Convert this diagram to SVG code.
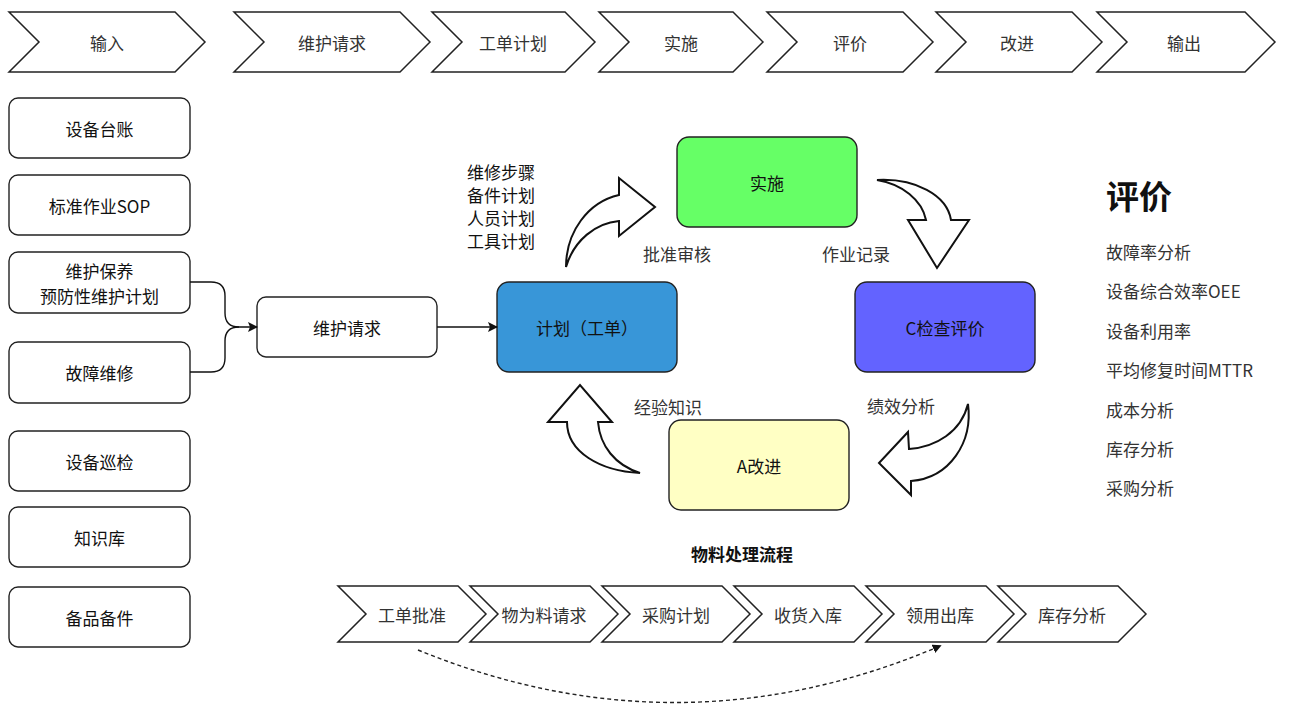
<svg xmlns="http://www.w3.org/2000/svg" width="1306" height="715" viewBox="0 0 1306 715">
<defs>
<style>
.chev{fill:#fff;stroke:#222;stroke-width:1.5;stroke-linejoin:miter}
.box{fill:#fff;stroke:#222;stroke-width:1.4}
.t{font-family:"Noto Sans CJK SC","Noto Sans",sans-serif;font-size:17px;fill:#111;text-anchor:middle;dominant-baseline:central}
.g{fill:#333}
.l{text-anchor:start}
.conn{fill:none;stroke:#111;stroke-width:1.4}
.big{fill:#fff;stroke:#111;stroke-width:2;stroke-linejoin:miter}
</style>
<marker id="arr" viewBox="0 0 10 10" refX="9" refY="5" markerWidth="10" markerHeight="10" markerUnits="userSpaceOnUse" orient="auto">
<path d="M0,0 L10,5 L0,10 L2,5 Z" fill="#111"/>
</marker>
<marker id="arrs" viewBox="0 0 10 10" refX="8" refY="5" markerWidth="9" markerHeight="9" markerUnits="userSpaceOnUse" orient="auto">
<path d="M0,0 L10,5 L0,10 Z" fill="#111"/>
</marker>
</defs>
<rect width="1306" height="715" fill="#fff"/>

<g id="top-chevrons">
<g id="c1"><path class="chev" d="M9,12 H175 L205,42 L175,72 H9 L39,42 Z"/><text class="t g" x="107" y="42">输入</text></g>
<g id="c2"><path class="chev" d="M234,12 H400 L430,42 L400,72 H234 L264,42 Z"/><text class="t g" x="332" y="42">维护请求</text></g>
<g id="c3"><path class="chev" d="M432,12 H565 L595,42 L565,72 H432 L462,42 Z"/><text class="t g" x="513" y="42">工单计划</text></g>
<g id="c4"><path class="chev" d="M599,12 H733 L763,42 L733,72 H599 L629,42 Z"/><text class="t g" x="681" y="42">实施</text></g>
<g id="c5"><path class="chev" d="M767,12 H903 L933,42 L903,72 H767 L797,42 Z"/><text class="t g" x="850" y="42">评价</text></g>
<g id="c6"><path class="chev" d="M936,12 H1072 L1102,42 L1072,72 H936 L966,42 Z"/><text class="t g" x="1017" y="42">改进</text></g>
<g id="c7"><path class="chev" d="M1097,12 H1245 L1275,42 L1245,72 H1097 L1127,42 Z"/><text class="t g" x="1184" y="42">输出</text></g>
</g>

<g id="left-boxes">
<g id="b1"><rect class="box" x="9" y="98" width="181" height="60" rx="9"/><text class="t" x="99.5" y="128">设备台账</text></g>
<g id="b2"><rect class="box" x="9" y="175" width="181" height="60" rx="9"/><text class="t" x="99.5" y="205">标准作业SOP</text></g>
<g id="b3"><rect class="box" x="9" y="252" width="181" height="61" rx="9"/><text class="t" x="99.5" y="270">维护保养</text><text class="t" x="99.5" y="295">预防性维护计划</text></g>
<g id="b4"><rect class="box" x="9" y="342" width="181" height="61" rx="9"/><text class="t" x="99.5" y="372">故障维修</text></g>
<g id="b5"><rect class="box" x="9" y="431" width="181" height="60" rx="9"/><text class="t" x="99.5" y="461">设备巡检</text></g>
<g id="b6"><rect class="box" x="9" y="507" width="181" height="60" rx="9"/><text class="t" x="99.5" y="537">知识库</text></g>
<g id="b7"><rect class="box" x="9" y="587" width="181" height="60" rx="9"/><text class="t" x="99.5" y="617">备品备件</text></g>
</g>

<g id="n-request"><rect class="box" x="257" y="297" width="180" height="60" rx="9"/><text class="t" x="347" y="327">维护请求</text></g>
<g id="n-plan"><rect x="497" y="282" width="180" height="90" rx="12" fill="#3896D8" stroke="#222" stroke-width="1.4"/><text class="t" x="587" y="327">计划（工单）</text></g>
<g id="n-do"><rect x="677" y="137" width="180" height="90" rx="12" fill="#66FF66" stroke="#222" stroke-width="1.4"/><text class="t" x="767" y="182">实施</text></g>
<g id="n-check"><rect x="855" y="282" width="180" height="90" rx="12" fill="#6363FF" stroke="#222" stroke-width="1.4"/><text class="t" x="945" y="327">C检查评价</text></g>
<g id="n-act"><rect x="669" y="420" width="180" height="90" rx="12" fill="#FFFFC4" stroke="#222" stroke-width="1.4"/><text class="t" x="759" y="465">A改进</text></g>

<g id="connectors">
<path class="conn" d="M190,282 H211 Q225,282 225,296 V313 Q225,327 239,327 H257" marker-end="url(#arr)"/>
<path class="conn" d="M190,372 H211 Q225,372 225,358 V341 Q225,327 239,327"/>
<path class="conn" d="M437,327 H497" marker-end="url(#arr)"/>
<path class="big" d="M566,267 C566,232 588,202 619,195 L619,178 L655,207 L619,236 L619,221 C596,223 574,240 566,267 Z"/>
<path class="big" d="M877,180 C915,178 947,195 951,220 L969,220 L937,268 L908,220 L926,220 C922,200 902,184 877,180 Z"/>
<path class="big" d="M968,404 C973,442 950,478 911,481 L911,495 L879,463 L908,432 L909,449 C936,447 961,432 968,404 Z"/>
<path class="big" d="M640,473 C600,471 567,452 567,422 L548,422 L580,385 L612,422 L598,422 C600,446 615,465 640,473 Z"/>
<path d="M418,650 Q680,757 940,646" fill="none" stroke="#222" stroke-width="1.4" stroke-dasharray="4 3" marker-end="url(#arrs)"/>
</g>

<g id="labels">
<text class="t l" x="467" y="171">维修步骤</text>
<text class="t l" x="467" y="194">备件计划</text>
<text class="t l" x="467" y="217">人员计划</text>
<text class="t l" x="467" y="240">工具计划</text>
<text class="t g" x="677" y="253">批准审核</text>
<text class="t g" x="856" y="253">作业记录</text>
<text class="t g" x="668" y="406">经验知识</text>
<text class="t g" x="901" y="405">绩效分析</text>
</g>

<g id="eval-list">
<text class="t l" x="1106" y="195" style="font-size:33px;font-weight:bold">评价</text>
<text class="t l g" x="1106" y="251">故障率分析</text>
<text class="t l g" x="1106" y="290">设备综合效率OEE</text>
<text class="t l g" x="1106" y="330">设备利用率</text>
<text class="t l g" x="1106" y="369">平均修复时间MTTR</text>
<text class="t l g" x="1106" y="409">成本分析</text>
<text class="t l g" x="1106" y="448">库存分析</text>
<text class="t l g" x="1106" y="487">采购分析</text>
</g>

<g id="material-flow">
<text class="t" x="742" y="553" style="font-weight:bold">物料处理流程</text>
<g id="m1"><path class="chev" d="M338,586 H458 L486,614 L458,642 H338 L366,614 Z"/><text class="t g" x="412" y="614">工单批准</text></g>
<g id="m2"><path class="chev" d="M470,586 H590 L618,614 L590,642 H470 L498,614 Z"/><text class="t g" x="544" y="614">物为料请求</text></g>
<g id="m3"><path class="chev" d="M602,586 H722 L750,614 L722,642 H602 L630,614 Z"/><text class="t g" x="676" y="614">采购计划</text></g>
<g id="m4"><path class="chev" d="M734,586 H854 L882,614 L854,642 H734 L762,614 Z"/><text class="t g" x="808" y="614">收货入库</text></g>
<g id="m5"><path class="chev" d="M866,586 H986 L1014,614 L986,642 H866 L894,614 Z"/><text class="t g" x="940" y="614">领用出库</text></g>
<g id="m6"><path class="chev" d="M998,586 H1118 L1146,614 L1118,642 H998 L1026,614 Z"/><text class="t g" x="1072" y="614">库存分析</text></g>
</g>
</svg>
